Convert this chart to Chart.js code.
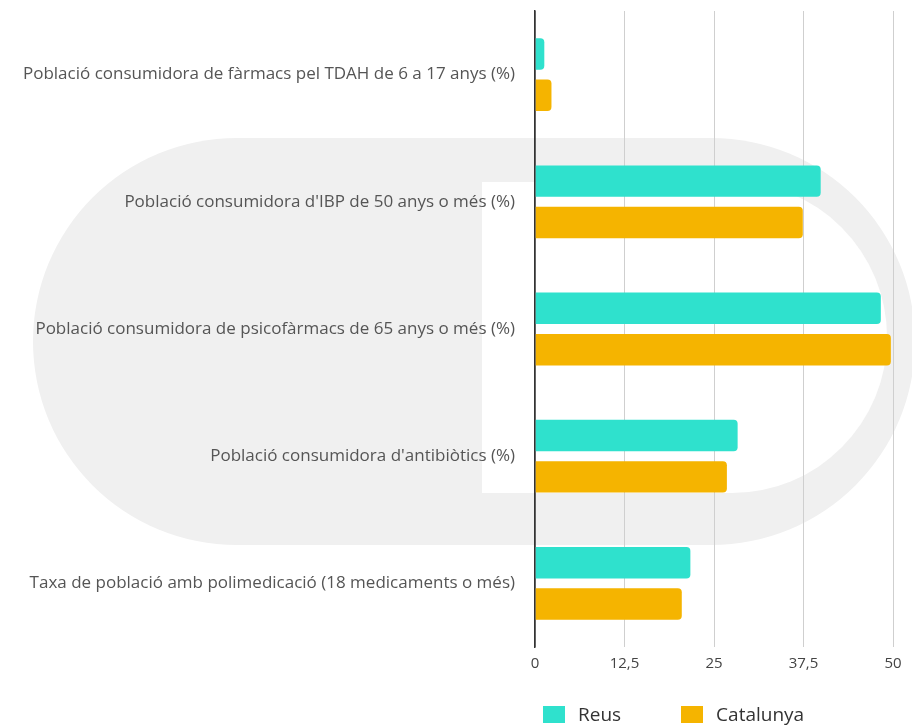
<!DOCTYPE html>
<html>
<head>
<meta charset="utf-8">
<script src="https://cdn.jsdelivr.net/npm/chart.js@4"></script>
<style>
    body { margin: 0; background: #fff; }
    #wrap { position: relative; width: 912px; height: 725px; }
    #legend { position: absolute; left: 543px; top: 701px; display: flex; font-family: 'Open Sans', sans-serif; font-size: 19px; color: #333; }
    .item { display: flex; align-items: center; margin-right: 60px; }
    .box { width: 22px; height: 17px; margin-right: 13px; }
</style>
</head>
<body>
<div id="wrap">
    <canvas id="chart" width="912" height="725"></canvas>
    <div id="legend"></div>
</div>
<script>
// Dades
const categories = [
    'Població consumidora de fàrmacs pel TDAH de 6 a 17 anys (%)',
    "Població consumidora d'IBP de 50 anys o més (%)",
    'Població consumidora de psicofàrmacs de 65 anys o més (%)',
    "Població consumidora d'antibiòtics (%)",
    'Taxa de població amb polimedicació (18 medicaments o més)'
];
const reusValues = [1.3, 39.9, 48.3, 28.3, 21.7];
const catalunyaValues = [2.3, 37.4, 49.7, 26.8, 20.5];
const seriesNames = ['Reus', 'Catalunya'];
const seriesColors = ['#2fe1cd', '#f5b400'];
const tickValues = [0, 12.5, 25, 37.5, 50];

// Marca d'aigua de fons (logo gris clar)
const watermark = {
    id: 'watermark',
    beforeDraw(chart) {
        const ctx = chart.ctx;
        ctx.save();
        ctx.fillStyle = '#f0f0f0';
        ctx.beginPath();
        ctx.roundRect(33, 138, 882, 407, 204);
        ctx.fill();
        ctx.fillStyle = '#ffffff';
        ctx.beginPath();
        ctx.roundRect(482, 182, 405, 311, [0, 155, 155, 0]);
        ctx.fill();
        ctx.restore();
    }
};

function initializeLegend() {
    const legend = document.getElementById('legend');
    seriesNames.forEach((name, i) => {
        const item = document.createElement('div');
        item.className = 'item';
        const box = document.createElement('span');
        box.className = 'box';
        box.style.background = seriesColors[i];
        const label = document.createElement('span');
        label.textContent = name;
        item.appendChild(box);
        item.appendChild(label);
        legend.appendChild(item);
    });
}

function initializeChart() {
    const data = {
        labels: categories,
        datasets: [
            {
                label: seriesNames[0],
                data: reusValues,
                backgroundColor: seriesColors[0],
                borderRadius: 4,
                borderSkipped: 'start',
                categoryPercentage: 0.65,
                barPercentage: 0.76
            },
            {
                label: seriesNames[1],
                data: catalunyaValues,
                backgroundColor: seriesColors[1],
                borderRadius: 4,
                borderSkipped: 'start',
                categoryPercentage: 0.65,
                barPercentage: 0.76
            }
        ]
    };

    new Chart(document.getElementById('chart'), {
        type: 'bar',
        data: data,
        plugins: [watermark],
        options: {
            indexAxis: 'y',
            responsive: false,
            animation: false,
            layout: {
                padding: { top: 11, right: 19, bottom: 44, left: 0 }
            },
            plugins: {
                legend: { display: false },
                tooltip: { enabled: false }
            },
            scales: {
                x: {
                    min: 0,
                    max: 50,
                    afterBuildTicks: (scale) => {
                        scale.ticks = tickValues.map(v => ({ value: v }));
                    },
                    border: { display: false },
                    grid: {
                        drawTicks: false,
                        color: (ctx) => ctx.tick && ctx.tick.value === 0 ? '#333333' : '#cfcfcf',
                        lineWidth: (ctx) => ctx.tick && ctx.tick.value === 0 ? 1.5 : 1
                    },
                    ticks: {
                        padding: 8,
                        color: '#444',
                        font: { family: 'Open Sans', size: 15 },
                        callback: (v) => String(v).replace('.', ',')
                    }
                },
                y: {
                    afterFit: (scale) => { scale.width = 535; },
                    border: { display: true, color: '#333333', width: 1.5 },
                    grid: { display: false, drawTicks: true, tickLength: 20 },
                    ticks: {
                        padding: 0,
                        color: '#555',
                        font: { family: 'Open Sans', size: 17 }
                    }
                }
            }
        }
    });
}

window.addEventListener('load', () => {
    initializeLegend();
    initializeChart();
});
</script>
</body>
</html>
